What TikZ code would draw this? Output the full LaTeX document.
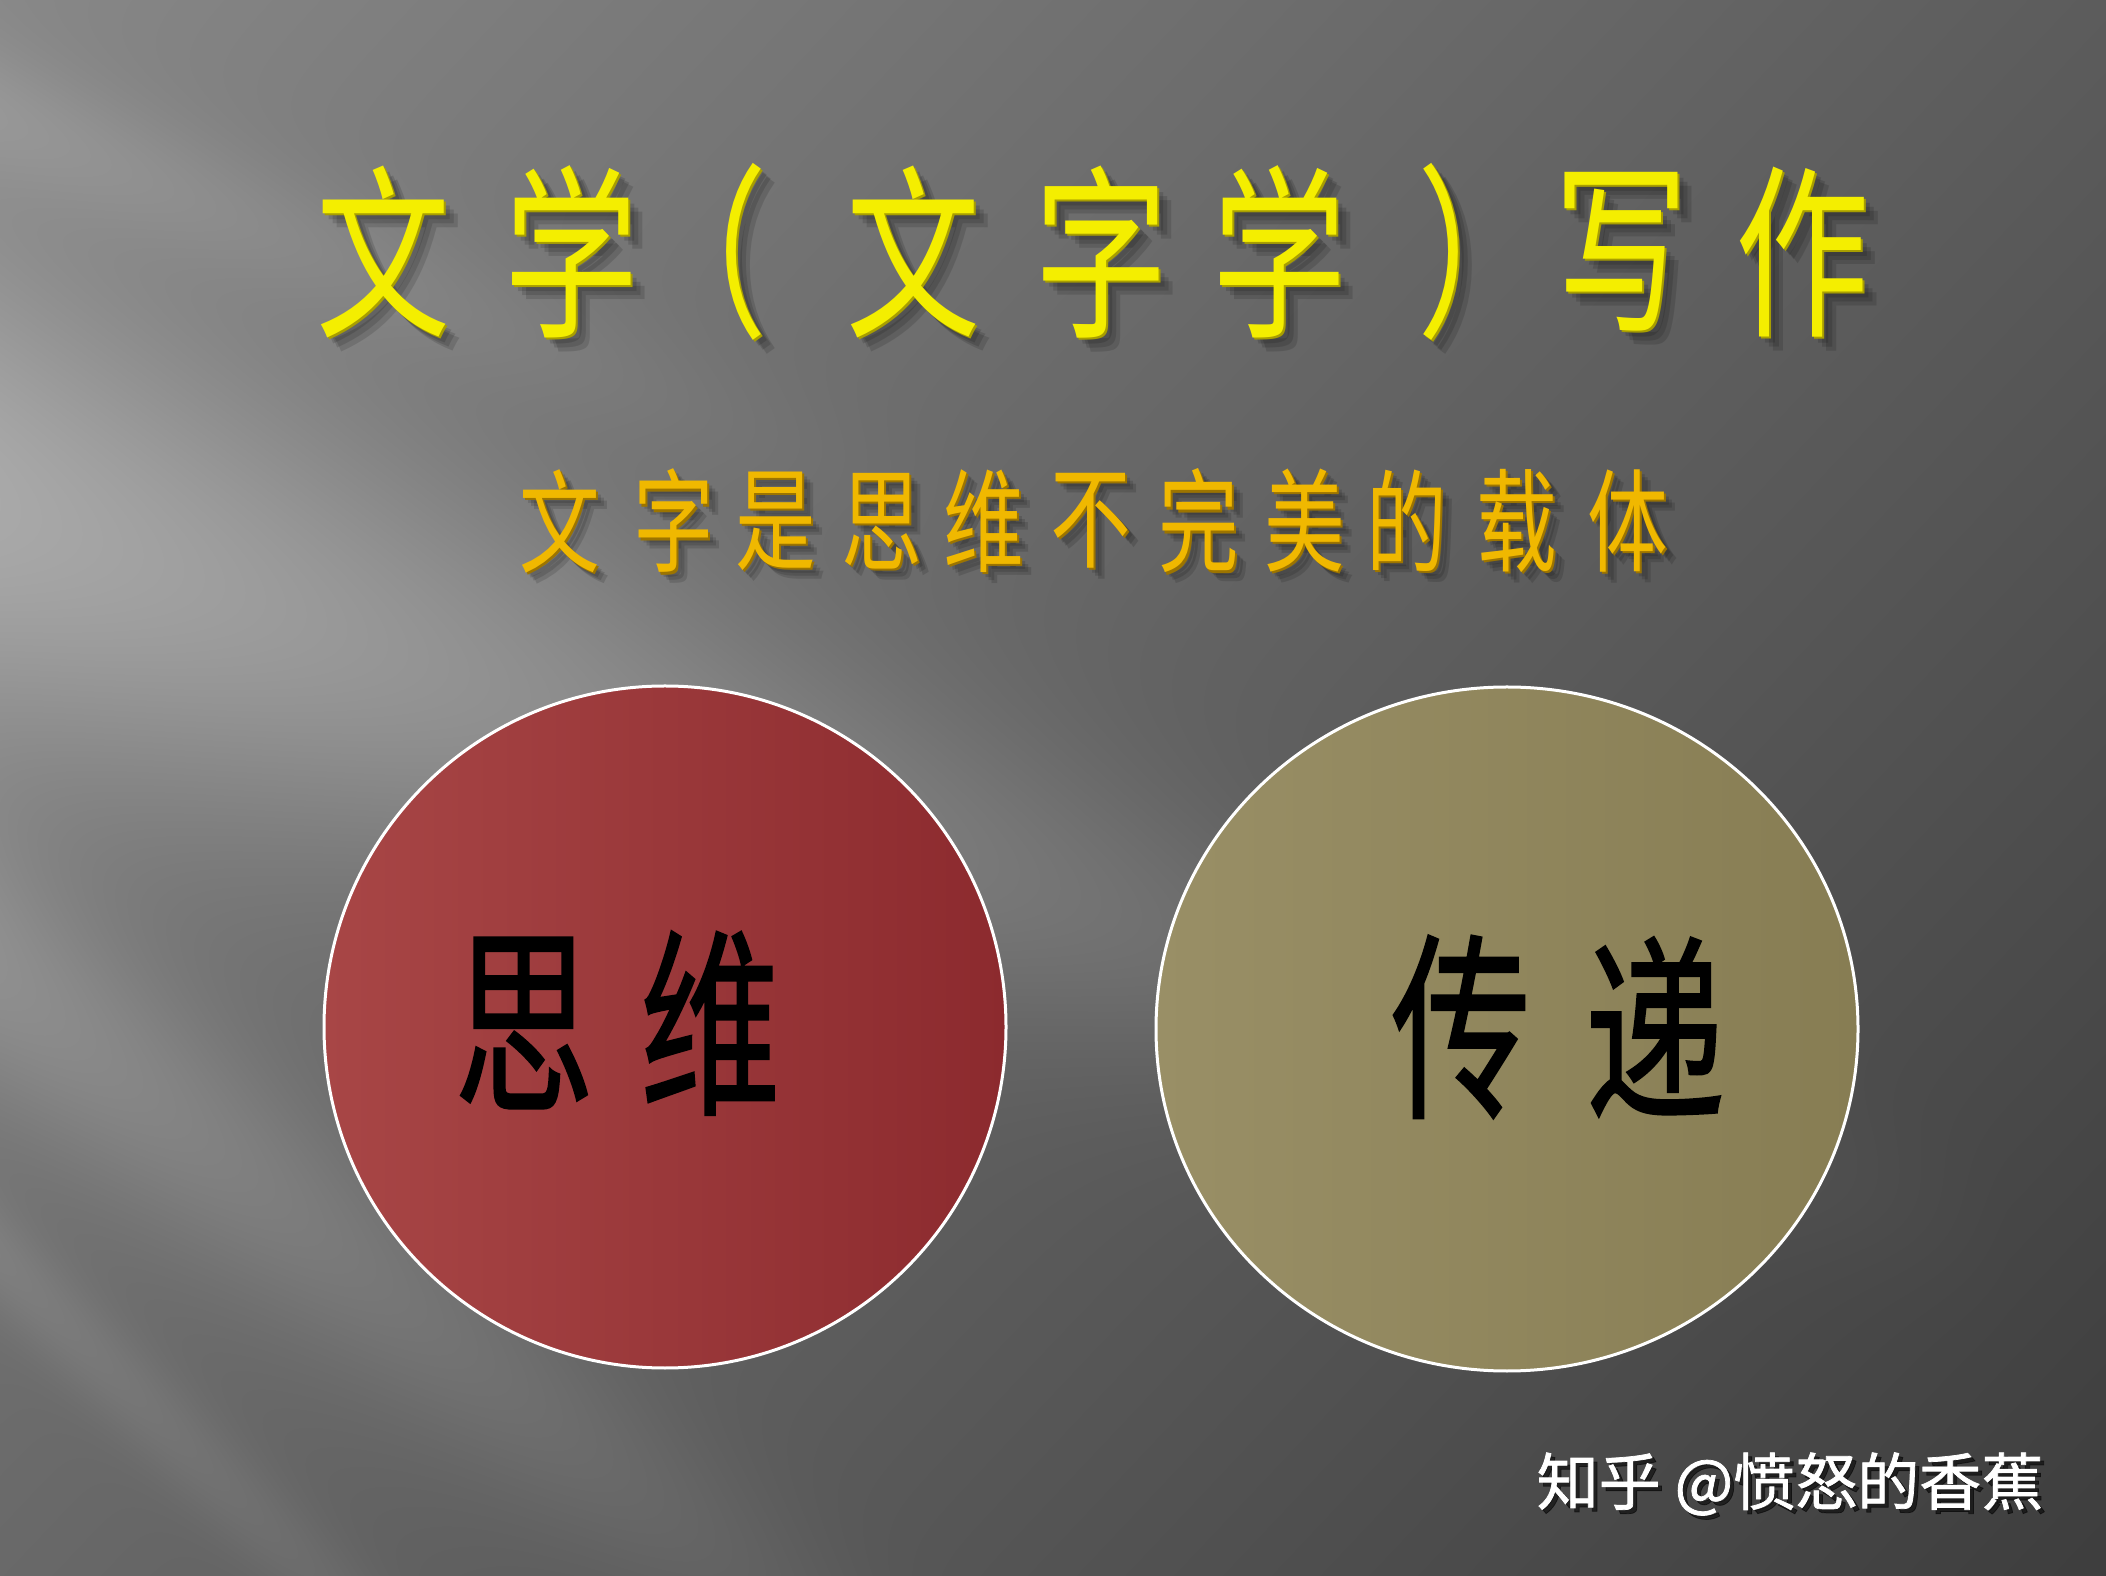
\documentclass[tikz,border=0pt]{standalone}
\usepackage{fontspec}
\newfontfamily\cjk{Noto Sans CJK SC}
\newfontfamily\cjkm{Noto Sans CJK SC}[FakeBold=1.2]
\usetikzlibrary{shadings}
\definecolor{bgbase}{HTML}{6A6A6A}
\definecolor{titleyellow}{HTML}{F4EE00}
\definecolor{titleedge}{HTML}{A89E00}
\definecolor{subyellow}{HTML}{F0B800}
\definecolor{subedge}{HTML}{9C7400}
\definecolor{redL}{HTML}{A84646}
\definecolor{redR}{HTML}{8C2A2E}
\definecolor{oliveL}{HTML}{998F66}
\definecolor{oliveR}{HTML}{877D53}
% background: grey gradient with soft diagonal light beams
\pgfdeclarefunctionalshading{slidebg}{\pgfpointorigin}{\pgfpoint{2112bp}{1580bp}}{}{
 1577 exch sub exch 3 sub exch 2 copy -0.0000762 mul exch -0.0000807 mul add 0.53 add
 3 copy pop exch dup 0.36 mul 3 -1 roll exch sub 520 sub exch dup -0.085 mul 240 add 3 -1 roll exch div dup mul neg 2.71828 exch exp exch 2000 div neg 1 add dup abs add 2 div mul 0.17 mul add
 3 copy pop exch dup 0.8 mul 3 -1 roll exch sub 980 sub exch dup -0.05 mul 140 add 3 -1 roll exch div dup mul neg 2.71828 exch exp exch 1100 div neg 1 add dup abs add 2 div mul 0.10 mul add
 3 copy pop exch dup 1.0 mul 3 -1 roll exch sub 1260 sub exch dup 0 mul 60 add 3 -1 roll exch div dup mul neg 2.71828 exch exp exch 800 div neg 1 add dup abs add 2 div mul 0.06 mul add
 3 copy pop exch dup 0.42 mul 3 -1 roll exch sub 120 sub exch dup 0 mul 70 add 3 -1 roll exch div dup mul neg 2.71828 exch exp exch 1000 div neg 1 add dup abs add 2 div mul 0.06 mul add
 3 1 roll pop pop dup dup
}
\tikzset{
  ttl/.style={font=\cjk\fontsize{186}{186}\selectfont, xscale=0.72, inner sep=0pt},
  sub/.style={font=\cjk\fontsize{112}{112}\selectfont, xscale=0.72, inner sep=0pt},
  big/.style={font=\cjkm\fontsize{200}{200}\selectfont, xscale=0.7, inner sep=0pt, text=black},
  disc/.style={draw=white, line width=3pt},
  shad/.style={text=black, opacity=0.13}
}
\begin{document}
\begin{tikzpicture}[x=1pt,y=1pt]
\useasboundingbox (0,0) rectangle (2106,1575);
% background
\fill[bgbase] (-5,-5) rectangle (2111,1580);
\node[inner sep=0pt, anchor=south west] (bg) at (-3,-3) {\pgfuseshading{slidebg}};
% circles
\shade[left color=redL, right color=redR] (665,548) circle (341);
\draw[disc] (665,548) circle (341);
\shade[left color=oliveL, right color=oliveR] (1507,546) ellipse [x radius=351, y radius=342];
\draw[disc] (1507,546) ellipse [x radius=351, y radius=342];
% title
\foreach \c/\x in {文/383,学/571,（/700,文/913,字/1101,学/1279,）/1484,写/1621,作/1802}{
  \node[ttl, shad] at (\x+6,1317) {\c};
  \node[ttl, shad] at (\x+10,1313) {\c};
  \node[ttl, shad] at (\x+14,1309) {\c};
  \node[ttl, text=titleedge] at (\x+2,1321) {\c};
  \node[ttl, text=titleyellow] (t\x) at (\x,1323) {\c};
}
% subtitle
\foreach \c/\x in {文/560,字/674,是/776,思/882,维/984,不/1091,完/1199,美/1305,的/1407,载/1517,体/1628}{
  \node[sub, shad] at (\x+5,1049) {\c};
  \node[sub, shad] at (\x+8,1046) {\c};
  \node[sub, shad] at (\x+11,1043) {\c};
  \node[sub, text=subedge] at (\x+2,1052) {\c};
  \node[sub, text=subyellow] (s\x) at (\x,1054) {\c};
}
% circle texts
\node[big] (si) at (524,552) {思};
\node[big] (wei) at (710,552) {维};
\node[big] (chuan) at (1461,548) {传};
\node[big] (di) at (1655,548) {递};
% watermark
\node[font=\cjkm\fontsize{62}{62}\selectfont, text=black, opacity=0.55, inner sep=0pt] at (1794,87) {知乎 @愤怒的香蕉};
\node[font=\cjkm\fontsize{62}{62}\selectfont, text=white, inner sep=0pt] (wm) at (1790,91) {知乎 @愤怒的香蕉};
\end{tikzpicture}
\end{document}
